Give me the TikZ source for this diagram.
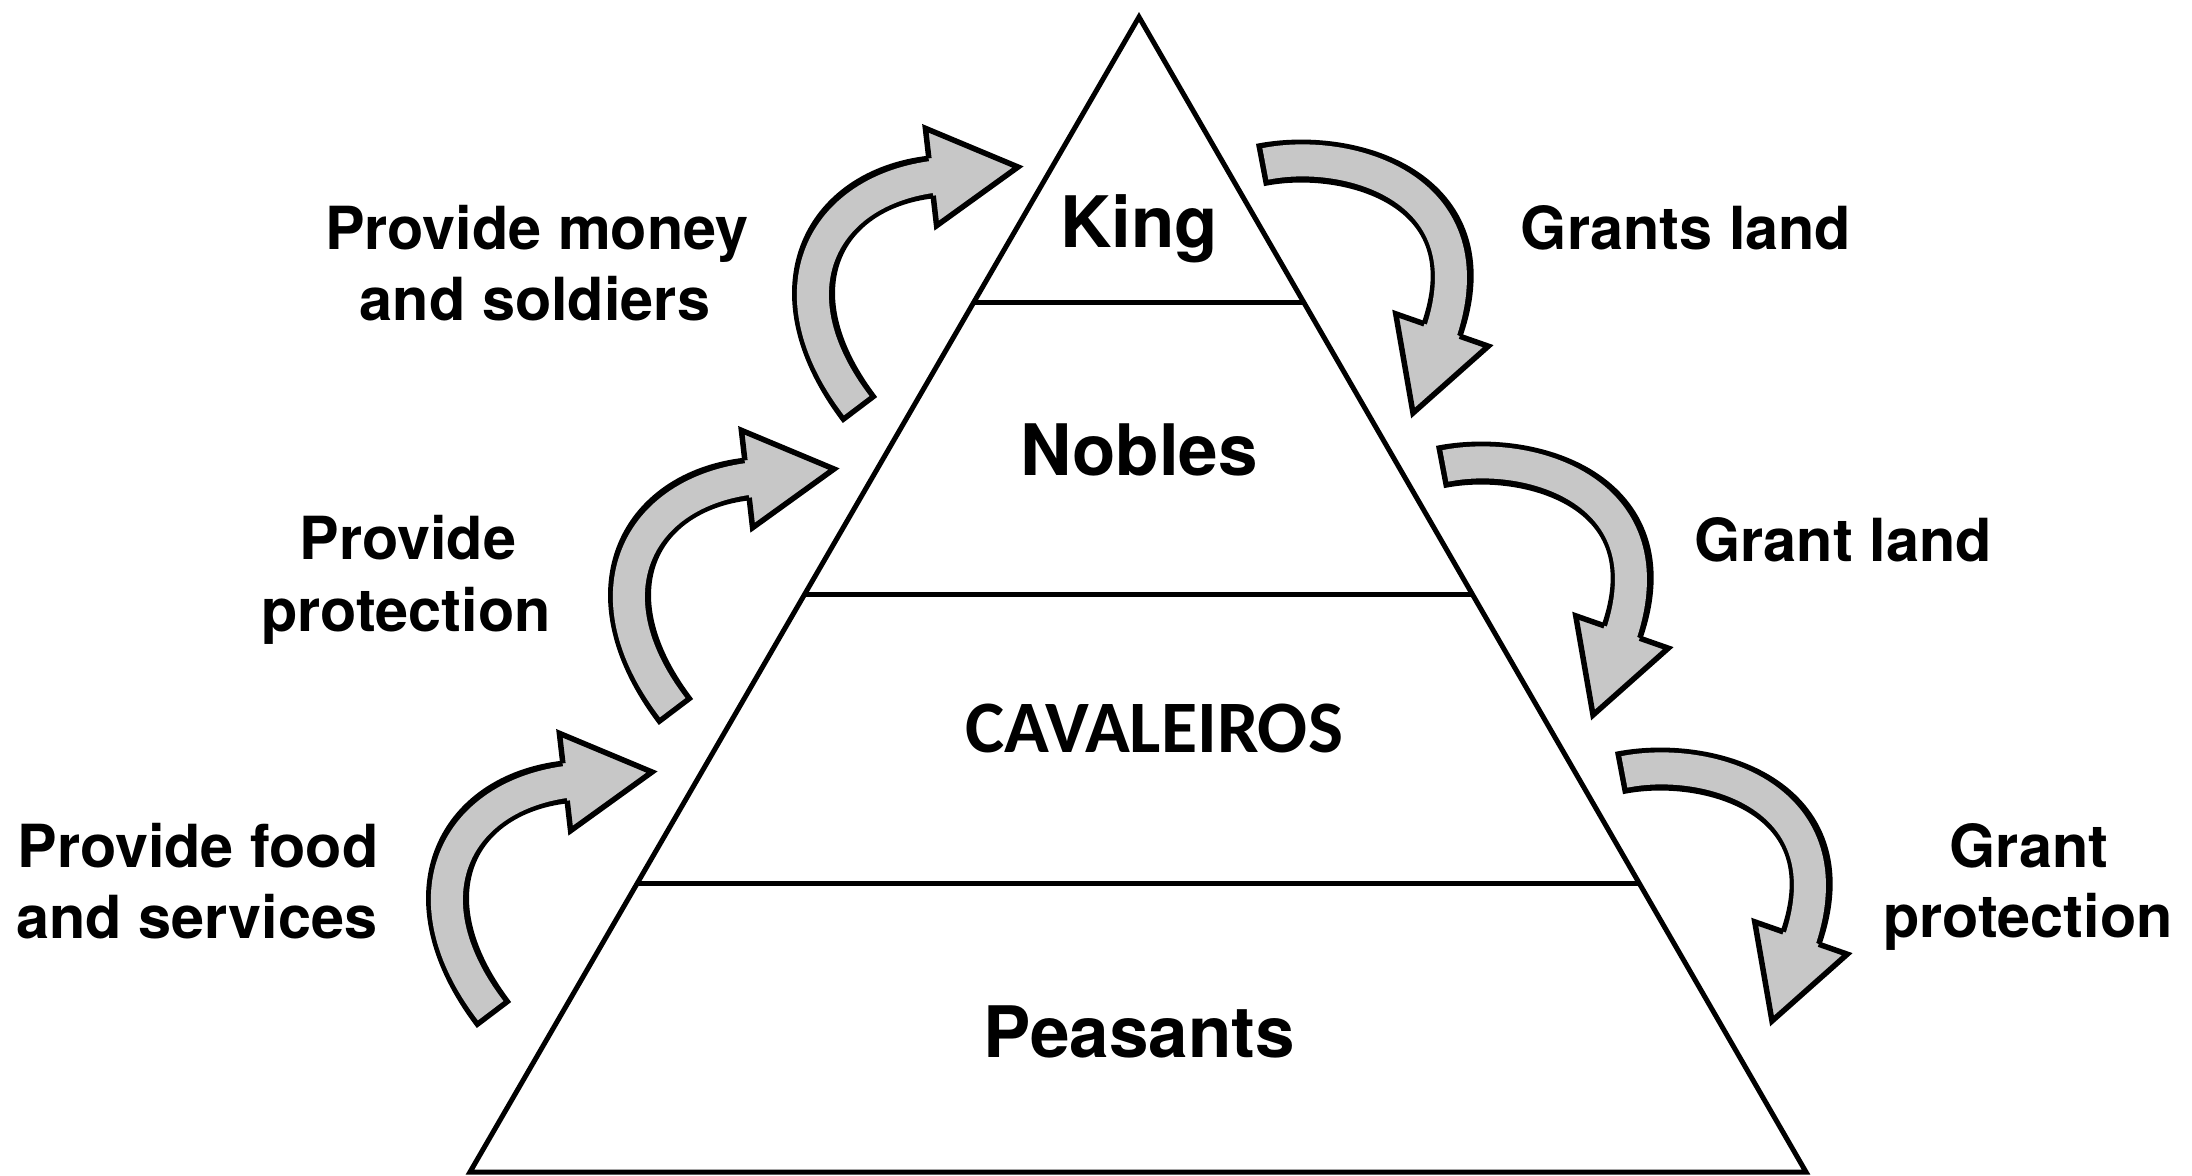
\documentclass[tikz,border=0pt]{standalone}
\usepackage{fontspec}
\setmainfont{TeX Gyre Heros}
\newfontfamily\calibfont{Carlito}
\usetikzlibrary{calc}
\definecolor{arrowgray}{RGB}{199,199,199}
\tikzset{
  lbl/.style={font=\fontsize{29.7}{35}\selectfont\bfseries, anchor=base, inner sep=0pt},
  lvl/.style={font=\fontsize{35.5}{40}\selectfont\bfseries, anchor=base, inner sep=0pt},
  cav/.style={font=\calibfont\fontsize{37}{40}\selectfont\bfseries, anchor=base, inner sep=0pt},
  pyr/.style={line width=2.5pt, line join=miter},
  shaftout/.style={line width=21.5pt, black},
  shaftin/.style={line width=16pt, arrowgray, shorten <=2.75pt, shorten >=-3pt},
  headline/.style={line width=2.75pt, line join=miter, black},
}
\newcommand{\leftblockarrow}[2]{%
  \begin{scope}[shift={(#1,#2)}]
    \coordinate (T) at (860,410);
    \coordinate (C1) at (769,291);
    \coordinate (H) at (931,177);
    \coordinate (P) at (1018,167);
    \coordinate (C2) at ($(H)!-55pt!(P)$);
    \coordinate (Ct) at ($(H)!24.5pt!90:(P)$);
    \coordinate (Cb) at ($(H)!24.5pt!-90:(P)$);
    \coordinate (A) at ($(H)!9.4pt!90:(P)$);
    \coordinate (B) at ($(H)!9.4pt!-90:(P)$);
    \draw[shaftout] (T) .. controls (C1) and (C2) .. (H);
    \draw[shaftin] (T) .. controls (C1) and (C2) .. (H);
    \fill[arrowgray] (Ct) -- (P) -- (Cb) -- cycle;
    \draw[headline] (A) -- (Ct) -- (P) -- (Cb) -- (B);
  \end{scope}}
\newcommand{\rightblockarrow}[2]{%
  \begin{scope}[shift={(#1,#2)}]
    \coordinate (T) at (1260,165);
    \coordinate (C1) at (1349,147);
    \coordinate (H) at (1442,330);
    \coordinate (P) at (1413,413);
    \coordinate (C2) at ($(H)!-75pt!(P)$);
    \coordinate (Ct) at ($(H)!24.5pt!90:(P)$);
    \coordinate (Cb) at ($(H)!24.5pt!-90:(P)$);
    \coordinate (A) at ($(H)!9.4pt!90:(P)$);
    \coordinate (B) at ($(H)!9.4pt!-90:(P)$);
    \draw[shaftout] (T) .. controls (C1) and (C2) .. (H);
    \draw[shaftin] (T) .. controls (C1) and (C2) .. (H);
    \fill[arrowgray] (Ct) -- (P) -- (Cb) -- cycle;
    \draw[headline] (A) -- (Ct) -- (P) -- (Cb) -- (B);
  \end{scope}}
\begin{document}
\begin{tikzpicture}[x=0.5pt,y=-0.5pt]
\useasboundingbox[fill=white] (0,0) rectangle (2192,1175);

% pyramid
\coordinate (apex) at (1139,17);
\coordinate (bl) at (470,1172);
\coordinate (br) at (1806,1172);
\draw[pyr] (apex) -- (bl) -- (br) -- cycle;
\coordinate (d1l) at (973.9,302);  \coordinate (d1r) at (1303.6,302);
\coordinate (d2l) at (804.8,594);  \coordinate (d2r) at (1472.2,594);
\coordinate (d3l) at (637.4,883);  \coordinate (d3r) at (1639.1,883);
\draw[pyr] (d1l) -- (d1r);
\draw[pyr] (d2l) -- (d2r);
\draw[pyr] (d3l) -- (d3r);

% level labels
\node[lvl] (king) at (1139,247) {King};
\node[lvl] (nobles) at (1139,475) {Nobles};
\node[cav] (cav) at (1154,752) {CAVALEIROS};
\node[lvl] (peasants) at (1139,1057) {Peasants};

% arrows
\leftblockarrow{0}{0}
\leftblockarrow{-184}{302}
\leftblockarrow{-366}{605}
\rightblockarrow{0}{0}
\rightblockarrow{180}{302}
\rightblockarrow{359}{608}

% side labels
\node[lbl] (l1a) at (537,249) {Provide money};
\node[lbl] (l1b) at (535,320) {and soldiers};
\node[lbl] (l2a) at (408,559) {Provide};
\node[lbl] (l2b) at (406,631) {protection};
\node[lbl] (l3a) at (198,867) {Provide food};
\node[lbl] (l3b) at (197,938) {and services};
\node[lbl] (r1) at (1686,249) {Grants land};
\node[lbl] (r2) at (1843,561) {Grant land};
\node[lbl] (r3a) at (2029,867) {Grant};
\node[lbl] (r3b) at (2028,937) {protection};
\end{tikzpicture}
\end{document}
